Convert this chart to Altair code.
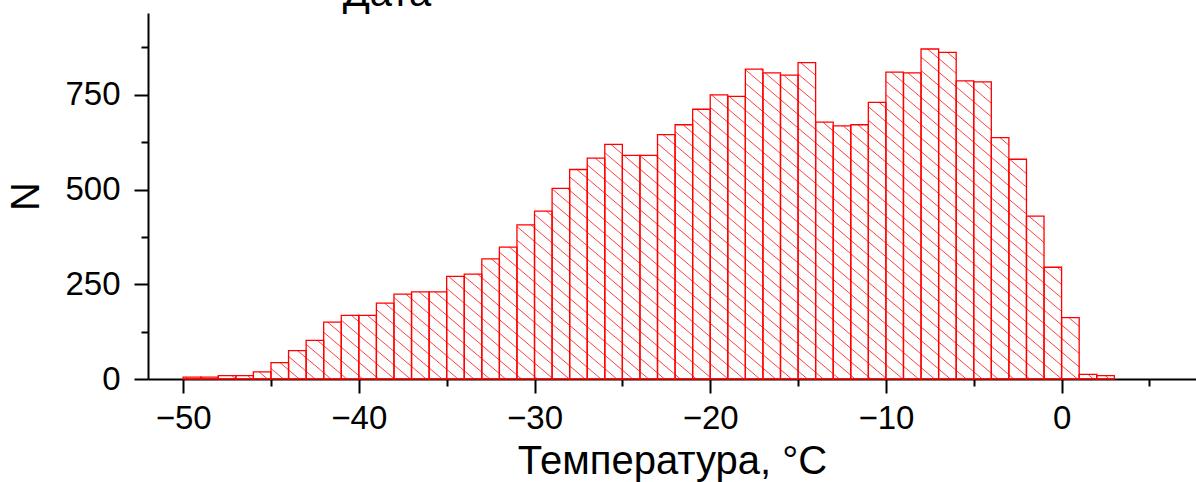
import altair as alt
import pandas as pd
import numpy as np

# ---- data ----
bin_left = list(range(-50, 3))          # 1 °C bins, -50 .. 3
counts = [5, 5, 9, 9, 19, 43, 75, 102, 150, 168,
          168, 200, 224, 230, 230, 271, 277, 317, 348, 407,
          443, 503, 553, 583, 619, 590, 590, 645, 671, 712,
          750, 746, 818, 808, 802, 835, 678, 668, 671, 730,
          810, 808, 871, 862, 787, 784, 637, 580, 430, 295,
          162, 12, 9]
BIN_WIDTH = 1
x_tick_values = list(range(-50, 10, 5))      # majors every 10, minors every 5
y_tick_values = list(range(0, 1000, 125))    # majors every 250, minors every 125
x_title = "Температура, °C"
y_title = "N"
chart_title = "Дата"

X_DOMAIN = [-52, 7.65]
Y_DOMAIN = [0, 966]
W, H = 1048, 366
FONT = "Liberation Sans"

bars = pd.DataFrame({"left": bin_left, "count": counts})
bars["right"] = bars["left"] + BIN_WIDTH

# ---- hatch segments (diagonal "\\\\" fill) built from the bars through data space ----
sx = W / (X_DOMAIN[1] - X_DOMAIN[0])
sy = H / (Y_DOMAIN[1] - Y_DOMAIN[0])
SLOPE_PX = 0.85        # pixel drop per pixel to the right
SPACING_PX = 13.5      # vertical distance between hatch lines
k = SLOPE_PX * sx / sy
dc = SPACING_PX / sy
segs = []
n0 = int(np.floor(k * min(bin_left) / dc)) - 1
n1 = int(np.ceil((max(counts) + k * (max(bin_left) + BIN_WIDTH)) / dc)) + 1
for a, b, h in zip(bars["left"], bars["right"], bars["count"]):
    for n in range(n0, n1 + 1):
        c = n * dc
        xa = max(a, (c - h) / k)
        xb = min(b, c / k)
        if xb - xa > 1e-6:
            segs.append({"xa": xa, "xb": xb, "ya": c - k * xa, "yb": c - k * xb})
hatch = pd.DataFrame(segs)

axis_common = dict(
    grid=False, domainColor="black", domainWidth=2, tickColor="black", tickWidth=2,
    labelColor="black", labelFont=FONT, labelFontSize=33, labelFlush=False,
    labelOverlap=False, titleColor="black", titleFont=FONT, titleFontSize=40,
    titleFontWeight="normal",
)
x_axis = alt.Axis(
    values=x_tick_values, title=x_title,
    labelExpr="datum.value % 10 === 0 ? datum.label : ''",
    tickSize={"condition": {"test": "datum.value % 10 === 0", "value": 14}, "value": 7},
    labelPadding=9, titlePadding=6, **axis_common)
y_axis = alt.Axis(
    values=y_tick_values, title=y_title,
    labelExpr="datum.value % 250 === 0 ? datum.label : ''",
    tickSize={"condition": {"test": "datum.value % 250 === 0", "value": 14}, "value": 7},
    labelPadding=14, titlePadding=18, **axis_common)

xs = alt.Scale(domain=X_DOMAIN, nice=False, zero=False)
ys = alt.Scale(domain=Y_DOMAIN, nice=False)

hatch_layer = alt.Chart(hatch).mark_rule(color="#ff0000", strokeWidth=1, opacity=0.75).encode(
    x=alt.X("xa:Q", scale=xs, axis=x_axis),
    x2="xb:Q",
    y=alt.Y("ya:Q", scale=ys, axis=y_axis),
    y2="yb:Q",
)
bar_layer = alt.Chart(bars).mark_rect(fill="transparent", stroke="#ff0000", strokeWidth=1.3).encode(
    x=alt.X("left:Q", scale=xs, axis=x_axis),
    x2="right:Q",
    y=alt.Y("count:Q", scale=ys, axis=y_axis),
    y2=alt.datum(0),
)
title_layer = alt.Chart(pd.DataFrame({"t": [chart_title]})).mark_text(
    font=FONT, fontSize=40, color="black", align="center", baseline="alphabetic"
).encode(x=alt.value(239), y=alt.value(-7), text="t:N")

chart = alt.layer(hatch_layer, bar_layer, title_layer).properties(
    width=W, height=H,
    autosize=alt.AutoSizeParams(type="none"),
    padding={"left": 148, "top": 13, "right": 0, "bottom": 103},
    background="white",
).configure_view(stroke=None)

chart.save("out.html", embed_options={"renderer": "svg", "actions": False})
